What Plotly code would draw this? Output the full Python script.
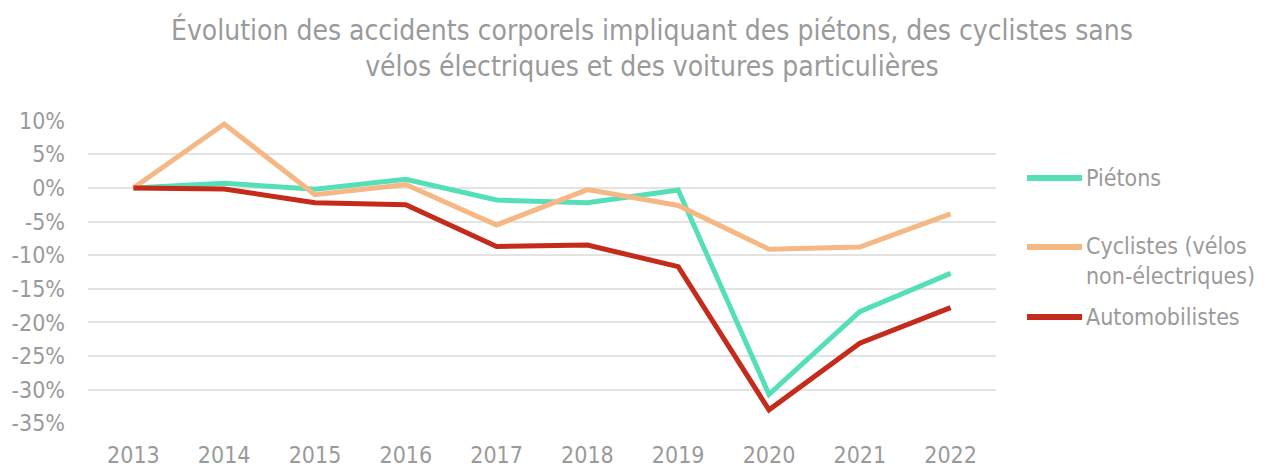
import plotly.graph_objects as go

years = ["2013", "2014", "2015", "2016", "2017", "2018", "2019", "2020", "2021", "2022"]
pietons = [0, 0.7, -0.2, 1.3, -1.8, -2.2, -0.3, -30.7, -18.4, -12.7]
cyclistes = [0, 9.5, -1.0, 0.5, -5.5, -0.25, -2.6, -9.1, -8.8, -3.85]
automobilistes = [0, -0.15, -2.2, -2.5, -8.7, -8.5, -11.7, -33.0, -23.1, -17.8]

series_names = ["Piétons", "Cyclistes (vélos<br>non-électriques)", "Automobilistes"]
series_colors = ["#55DFB8", "#F5B783", "#C42B1A"]

ytick_vals = [10, 5, 0, -5, -10, -15, -20, -25, -30, -35]
ytick_text = ["10%", "5%", "0%", "-5%", "-10%", "-15%", "-20%", "-25%", "-30%", "-35%"]

title_text = ("Évolution des accidents corporels impliquant des piétons, des cyclistes sans<br>"
              "vélos électriques et des voitures particulières")

FONT = "Tahoma, 'DejaVu Sans Condensed', 'Liberation Sans Narrow', sans-serif"
GREY = "#9a9a9a"

OFF = 8  # default page body margin
W, H = 1266 - OFF, 466 - OFF
L, R, T, B = 88 - OFF, 996 - OFF, 120 - OFF, 424 - OFF
PW, PH = R - L, B - T

fig = go.Figure()
for name, vals, col in zip(series_names, [pietons, cyclistes, automobilistes], series_colors):
    fig.add_trace(go.Scatter(x=years, y=vals, mode="lines", name=name,
                             line=dict(color=col, width=5), showlegend=False))

# manual legend (page coordinates minus offset)
legend_y = [178 - OFF, 247 - OFF, 317 - OFF]
for name, col, yy in zip(series_names, series_colors, legend_y):
    two = "<br>" in name
    fig.add_shape(type="line", xref="paper", yref="paper",
                  x0=(1027 - OFF - L) / PW, x1=(1082 - OFF - L) / PW,
                  y0=(B - yy) / PH, y1=(B - yy) / PH,
                  line=dict(color=col, width=6))
    fig.add_annotation(xref="paper", yref="paper", x=(1084 - OFF - L) / PW,
                       y=(B - yy) / PH, text=name, showarrow=False,
                       xanchor="left", yanchor="top" if two else "middle",
                       yshift=16 if two else 0,
                       align="left", font=dict(family=FONT, size=23, color=GREY))

fig.add_annotation(xref="paper", yref="paper", x=(652 - OFF - L) / PW, y=(B - (48 - OFF)) / PH,
                   text=title_text, showarrow=False, xanchor="center", yanchor="middle",
                   align="center", font=dict(family=FONT, size=28, color=GREY))

fig.update_layout(
    width=W, height=H,
    margin=dict(l=L, r=W - R, t=T, b=H - B),
    paper_bgcolor="white", plot_bgcolor="white",
    xaxis=dict(type="category", range=[-0.5, 9.5], showgrid=False, zeroline=False,
               showline=False, ticks="", ticklabelstandoff=15, automargin=False,
               tickfont=dict(family=FONT, size=23, color=GREY)),
    yaxis=dict(range=[-35.1, 10.1], tickvals=ytick_vals, ticktext=ytick_text,
               showgrid=True, gridcolor="#e3e3e3", gridwidth=2, zeroline=False,
               showline=False, ticks="", ticklabelstandoff=22, automargin=False,
               tickfont=dict(family=FONT, size=23, color=GREY)),
)

fig.write_html("out.html")
